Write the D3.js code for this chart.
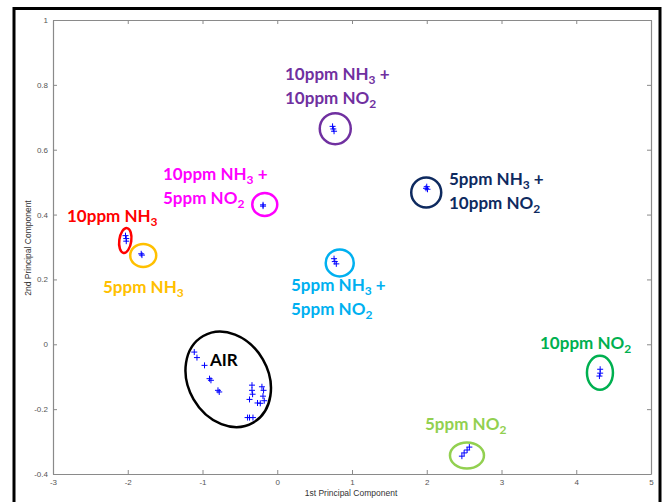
<!DOCTYPE html>
<html><head><meta charset="utf-8">
<script src="https://cdn.jsdelivr.net/npm/d3@7"></script>
<style>body{margin:0;background:#fff;} svg{display:block;}</style>
</head><body>
<svg id="c" width="667" height="502"></svg>
<script>
// ---- data ----
const xTicks = [-3,-2,-1,0,1,2,3,4,5];
const yTicks = [-0.4,-0.2,0,0.2,0.4,0.6,0.8,1];
const xLabel = "1st Principal Component";
const yLabel = "2nd Principal Component";

const airPts = [[-1.11,-0.024],[-1.074,-0.041],[-0.973,-0.065],[-0.906,-0.106],[-0.887,-0.111],[-0.793,-0.142],[-0.776,-0.147],
  [-0.338,-0.126],[-0.338,-0.142],[-0.330,-0.154],[-0.371,-0.170],[-0.264,-0.181],[-0.205,-0.131],[-0.183,-0.142],
  [-0.191,-0.160],[-0.174,-0.174],[-0.227,-0.182],[-0.371,-0.226],[-0.325,-0.226],[-0.397,-0.226]];
const nh3_10 = [[-2.03,0.335],[-2.02,0.326],[-2.02,0.318]];
const nh3_5 = [[-1.82,0.279],[-1.81,0.275]];
const nh3_10_no2_5 = [[-0.19,0.430],[-0.19,0.426]];
const nh3_10_no2_10 = [[0.74,0.672],[0.75,0.664],[0.76,0.657]];
const nh3_5_no2_10 = [[2.0,0.486],[2.01,0.478],[1.99,0.481]];
const nh3_5_no2_5 = [[0.76,0.264],[0.77,0.255],[0.79,0.248]];
const no2_10 = [[4.32,-0.077],[4.32,-0.089],[4.31,-0.098]];
const no2_5 = [[2.47,-0.345],[2.50,-0.335],[2.54,-0.326],[2.57,-0.317]];

const groups = [
  {name:"AIR", pts:airPts},
  {name:"10ppm NH3", pts:nh3_10},
  {name:"5ppm NH3", pts:nh3_5},
  {name:"10ppm NH3 + 5ppm NO2", pts:nh3_10_no2_5},
  {name:"10ppm NH3 + 10ppm NO2", pts:nh3_10_no2_10},
  {name:"5ppm NH3 + 10ppm NO2", pts:nh3_5_no2_10},
  {name:"5ppm NH3 + 5ppm NO2", pts:nh3_5_no2_5},
  {name:"10ppm NO2", pts:no2_10},
  {name:"5ppm NO2", pts:no2_5}
];

// ---- annotations (ellipses: centre in data units) ----
const ellipses = [
  {c:[-0.656,-0.108], rx:40, ry:50, rot:-30, col:"#000000"},
  {c:[-2.033,0.320], rx:6, ry:12.5, rot:8, col:"#ff0000"},
  {c:[-1.793,0.274], rx:13, ry:11.5, rot:0, col:"#ffc000"},
  {c:[-0.167,0.431], rx:12.5, ry:11.5, rot:0, col:"#ff00ff"},
  {c:[0.776,0.665], rx:15.5, ry:15.5, rot:0, col:"#7030a0"},
  {c:[1.993,0.468], rx:15, ry:15, rot:0, col:"#0e2a5f"},
  {c:[0.836,0.251], rx:14, ry:13.5, rot:0, col:"#00b0f0"},
  {c:[4.317,-0.088], rx:13, ry:17, rot:0, col:"#00b050"},
  {c:[2.538,-0.343], rx:17, ry:13, rot:0, col:"#92d050"}
];
const labels = [
  {x:285, y:80, col:"#7030a0", lines:[[["10ppm NH",""],["3","sub"],[" +",""]],[["10ppm NO",""],["2","sub"]]]},
  {x:163, y:180, col:"#ff00ff", lines:[[["10ppm NH",""],["3","sub"],[" +",""]],[["5ppm NO",""],["2","sub"]]]},
  {x:67, y:222, col:"#ff0000", lines:[[["10ppm NH",""],["3","sub"]]]},
  {x:103, y:293, col:"#ffc000", lines:[[["5ppm NH",""],["3","sub"]]]},
  {x:449, y:185, col:"#0e2a5f", lines:[[["5ppm NH",""],["3","sub"],[" +",""]],[["10ppm NO",""],["2","sub"]]]},
  {x:291, y:291, col:"#00b0f0", lines:[[["5ppm NH",""],["3","sub"],[" +",""]],[["5ppm NO",""],["2","sub"]]]},
  {x:210, y:366, col:"#000000", lines:[[["AIR",""]]]},
  {x:540, y:349, col:"#00b050", lines:[[["10ppm NO",""],["2","sub"]]]},
  {x:425, y:430, col:"#92d050", lines:[[["5ppm NO",""],["2","sub"]]]}
];

// ---- drawing ----
const svg = d3.select("#c");
const m = {l:53, r:651, t:20, b:474};
const x = d3.scaleLinear().domain([-3,5]).range([m.l, m.r]);
const y = d3.scaleLinear().domain([-0.4,1]).range([m.b, m.t]);

svg.append("rect").attr("x",14).attr("y",8.5).attr("width",646).attr("height",520)
  .attr("fill","none").attr("stroke","#000").attr("stroke-width",3);

const fmt = d => (d===0?"0":String(d));
const axCol = "#8a8a8a";
const gx = svg.append("g").attr("transform",`translate(0,${m.b})`)
  .call(d3.axisBottom(x).tickValues(xTicks).tickFormat(fmt).tickSizeInner(-4).tickSizeOuter(0).tickPadding(5));
const gy = svg.append("g").attr("transform",`translate(${m.l},0)`)
  .call(d3.axisLeft(y).tickValues(yTicks).tickFormat(fmt).tickSizeInner(-4).tickSizeOuter(0).tickPadding(5));
const gx2 = svg.append("g").attr("transform",`translate(0,${m.t})`)
  .call(d3.axisTop(x).tickValues(xTicks).tickFormat("").tickSizeInner(-4).tickSizeOuter(0));
const gy2 = svg.append("g").attr("transform",`translate(${m.r},0)`)
  .call(d3.axisRight(y).tickValues(yTicks).tickFormat("").tickSizeInner(-4).tickSizeOuter(0));
[gx,gy,gx2,gy2].forEach(g=>{
  g.select(".domain").attr("stroke",axCol).attr("stroke-width",1.2);
  g.selectAll(".tick line").attr("stroke",axCol);
  g.selectAll("text").attr("fill","#555").attr("font-family","Liberation Sans, Arial, sans-serif").attr("font-size",8);
});

svg.append("text").attr("x",351).attr("y",496).attr("text-anchor","middle")
  .attr("font-family","Liberation Sans, Arial, sans-serif").attr("font-size",8.5).attr("fill","#333").text(xLabel);
svg.append("text").attr("transform",`translate(31,248) rotate(-90)`).attr("text-anchor","middle")
  .attr("font-family","Liberation Sans, Arial, sans-serif").attr("font-size",8.5).attr("fill","#333").text(yLabel);

svg.selectAll("ellipse.e").data(ellipses).join("ellipse")
  .attr("transform",d=>`translate(${x(d.c[0])},${y(d.c[1])}) rotate(${d.rot})`)
  .attr("rx",d=>d.rx).attr("ry",d=>d.ry)
  .attr("fill","none").attr("stroke",d=>d.col).attr("stroke-width",2.5);

const allPts = groups.flatMap(g=>g.pts);
const s = 3;
svg.append("g").selectAll("path").data(allPts).join("path")
  .attr("d",d=>`M${x(d[0])-s},${y(d[1])}H${x(d[0])+s}M${x(d[0])},${y(d[1])-s}V${y(d[1])+s}`)
  .attr("stroke","#0000ff").attr("stroke-width",1).attr("fill","none");

const lg = svg.append("g").attr("font-family","Lato, 'Open Sans', sans-serif").attr("font-weight","bold").attr("font-size",17);
labels.forEach(L=>{
  L.lines.forEach((parts,i)=>{
    const t = lg.append("text").attr("x",L.x).attr("y",L.y+i*24).attr("fill",L.col);
    parts.forEach(p=>{
      const ts = t.append("tspan").text(p[0]);
      if(p[1]==="sub") ts.attr("font-size",12).attr("dy",4);
      else if(t.selectAll("tspan").size()>1) ts.attr("dy",-4);
    });
  });
});
</script>
</body></html>
